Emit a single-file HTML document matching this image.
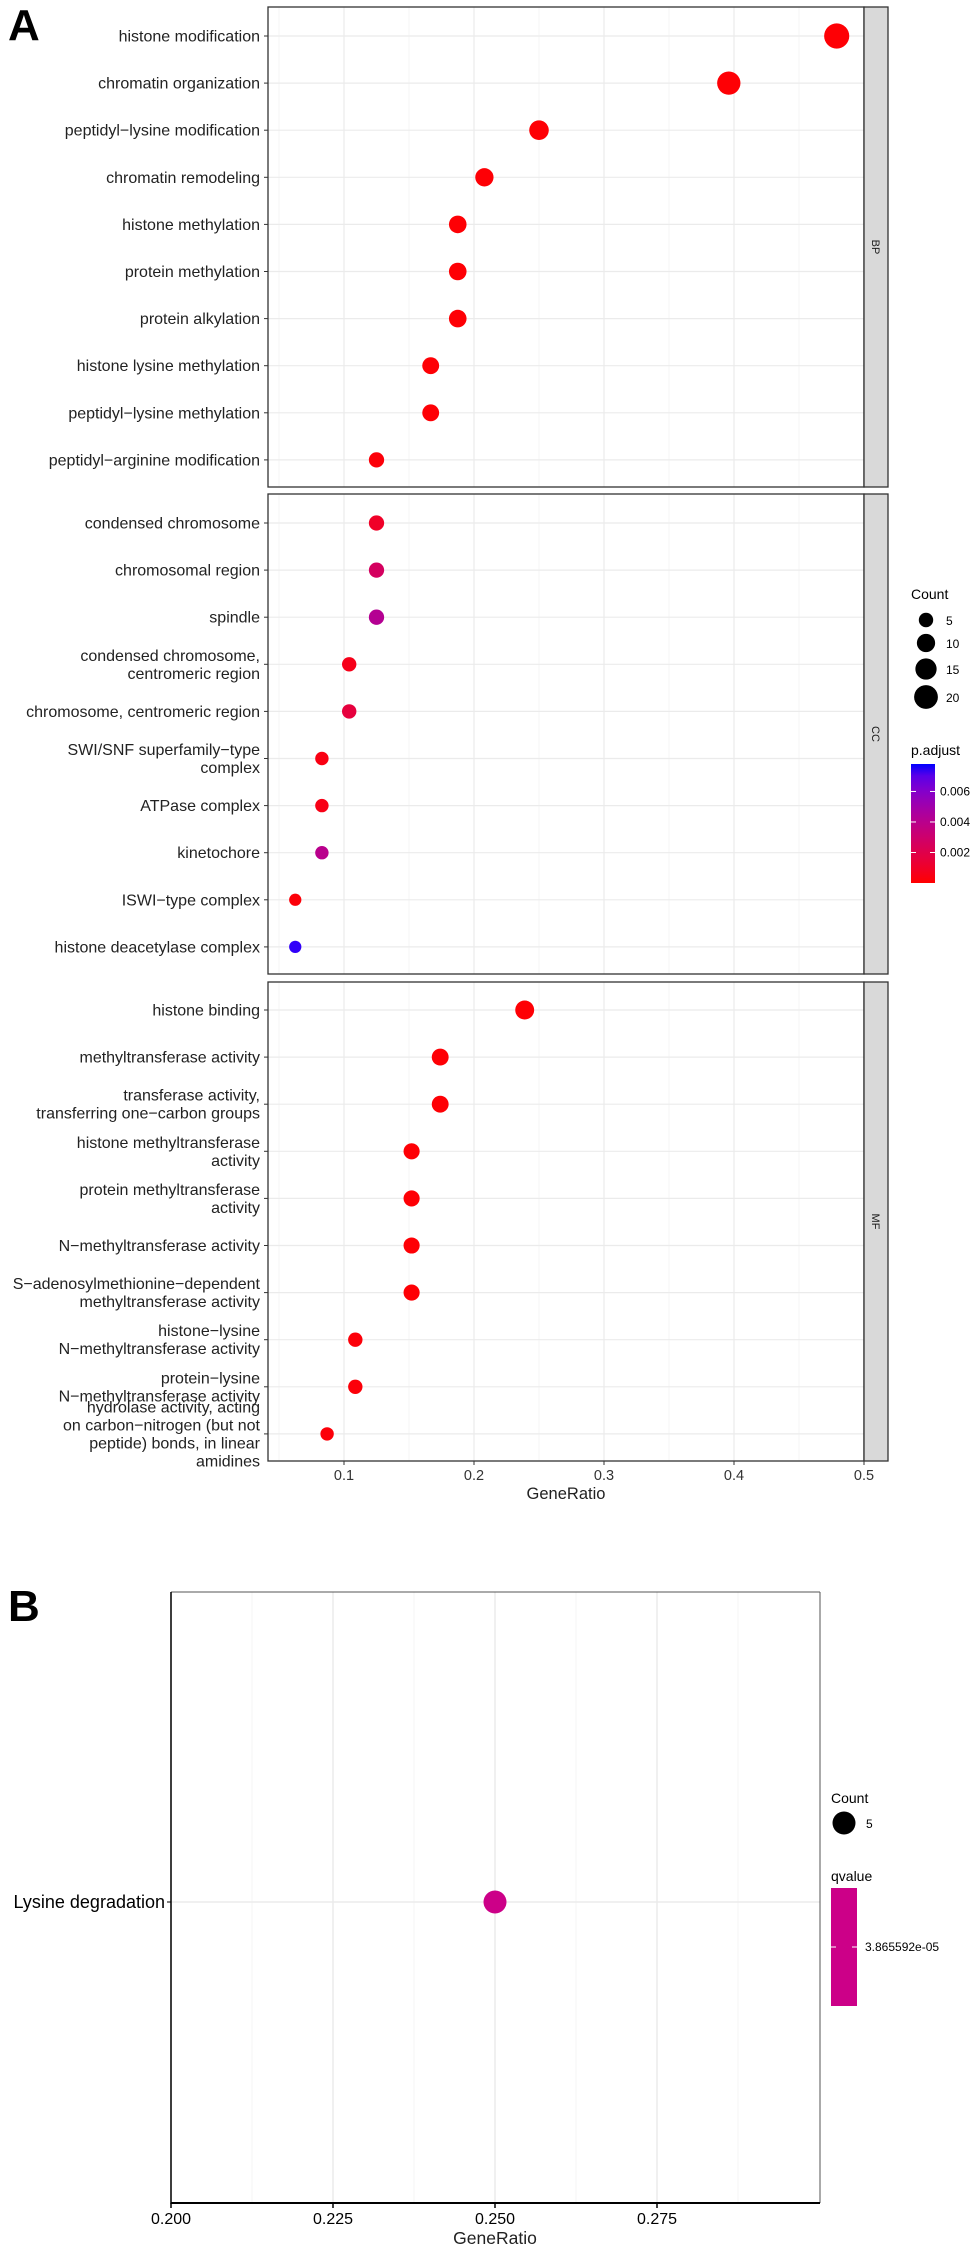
<!DOCTYPE html>
<html><head><meta charset="utf-8"><style>
body{margin:0;background:#fff;}
svg{display:block;font-family:"Liberation Sans",Arial,sans-serif;}
</style></head><body>
<svg id="chart" width="980" height="2250" viewBox="0 0 980 2250"></svg>
<script>
// ---- Panel A data ----
const bpTerms=["histone modification","chromatin organization","peptidyl−lysine modification","chromatin remodeling","histone methylation","protein methylation","protein alkylation","histone lysine methylation","peptidyl−lysine methylation","peptidyl−arginine modification"];
const bpRatio=[0.479,0.396,0.25,0.208,0.1875,0.1875,0.1875,0.1667,0.1667,0.125];
const bpCount=[23,19,12,10,9,9,9,8,8,6];
const bpP=[0.0001,0.0001,0.0001,0.0001,0.0001,0.0001,0.0001,0.0001,0.0001,0.0002];
const ccTerms=["condensed chromosome","chromosomal region","spindle","condensed chromosome,|centromeric region","chromosome, centromeric region","SWI/SNF superfamily−type|complex","ATPase complex","kinetochore","ISWI−type complex","histone deacetylase complex"];
const ccRatio=[0.125,0.125,0.125,0.104,0.104,0.083,0.083,0.083,0.0625,0.0625];
const ccCount=[6,6,6,5,5,4,4,4,3,3];
const ccP=[0.0010,0.0026,0.0042,0.0006,0.0016,0.0004,0.0005,0.0040,0.0002,0.0076];
const mfTerms=["histone binding","methyltransferase activity","transferase activity,|transferring one−carbon groups","histone methyltransferase|activity","protein methyltransferase|activity","N−methyltransferase activity","S−adenosylmethionine−dependent|methyltransferase activity","histone−lysine|N−methyltransferase activity","protein−lysine|N−methyltransferase activity","hydrolase activity, acting|on carbon−nitrogen (but not|peptide) bonds, in linear|amidines"];
const mfRatio=[0.239,0.174,0.174,0.152,0.152,0.152,0.152,0.1087,0.1087,0.087];
const mfCount=[11,8,8,7,7,7,7,5,5,4];
const mfP=[0.0001,0.0001,0.0001,0.0001,0.0001,0.0001,0.0001,0.0002,0.0002,0.0002];
const xTicksA=[0.1,0.2,0.3,0.4,0.5];
const xTickLabelsA=["0.1","0.2","0.3","0.4","0.5"];
const sizeLegend=[5,10,15,20];
const pTicks=[0.002,0.004,0.006];
// ---- Panel B data ----
const bTerms=["Lysine degradation"];
const bRatio=[0.25];
const bCount=[5];
const xTicksB=[0.2,0.225,0.25,0.275];
const xTickLabelsB=["0.200","0.225","0.250","0.275"];

const NS="http://www.w3.org/2000/svg";
const svg=document.getElementById('chart');
function mk(tag,attrs,parent){const e=document.createElementNS(NS,tag);for(const k in attrs)e.setAttribute(k,attrs[k]);(parent||svg).appendChild(e);return e;}

// scales
const xA=v=>214+v*1300;
const rA=c=>2.1*Math.sqrt(c)+2.5;
const pMax=0.0078;
function pColor(p){const t=Math.max(0,Math.min(1,p/pMax));const r=Math.round(255*Math.pow(1-t,0.45)),b=Math.round(255*Math.pow(t,0.9));return `rgb(${r},0,${b})`;}
const xB=v=>171+(v-0.2)*6480;

// Panel letters
let t=mk('text',{x:8,y:40,'font-size':44,'font-weight':'bold',fill:'#000'});t.textContent='A';

t=mk('text',{x:8,y:1621,'font-size':44,'font-weight':'bold',fill:'#000'});t.textContent='B';


const facets=[
 {name:'BP',top:7,bottom:487,y0:36,terms:bpTerms,ratio:bpRatio,count:bpCount,p:bpP},
 {name:'CC',top:494,bottom:974,y0:523,terms:ccTerms,ratio:ccRatio,count:ccCount,p:ccP},
 {name:'MF',top:982,bottom:1461,y0:1010,terms:mfTerms,ratio:mfRatio,count:mfCount,p:mfP}
];
const L=268,R=864,SR=888,step=47.1;
facets.forEach(f=>{
 const g=mk('g',{});
 
 
 mk('rect',{x:L,y:f.top,width:R-L,height:f.bottom-f.top,fill:'#fff'},g);
 for(let v=0.05;v<0.52;v+=0.1){mk('line',{x1:xA(v),x2:xA(v),y1:f.top,y2:f.bottom,stroke:'#f2f2f2','stroke-width':0.7},g);}
 xTicksA.forEach(v=>mk('line',{x1:xA(v),x2:xA(v),y1:f.top,y2:f.bottom,stroke:'#ebebeb','stroke-width':1.2},g));
 f.terms.forEach((term,i)=>{
  const y=f.y0+i*step;
  mk('line',{x1:L,x2:R,y1:y,y2:y,stroke:'#ebebeb','stroke-width':1.2},g);
  mk('line',{x1:L-4,x2:L,y1:y,y2:y,stroke:'#333','stroke-width':1},g);
  const lines=term.split('|');
  const lab=mk('text',{x:260,'font-size':16,fill:'#222','text-anchor':'end'},g);
  
  
  lines.forEach((ln,k)=>{const ts=mk('tspan',{x:260,y:y+5.5+(k-(lines.length-1)/2)*18},lab);ts.textContent=ln;});
 });
 f.terms.forEach((term,i)=>{
  const c=mk('circle',{cx:xA(f.ratio[i]),cy:f.y0+i*step,r:rA(f.count[i]),fill:pColor(f.p[i])},g);
  
  
 });
 mk('rect',{x:L,y:f.top,width:R-L,height:f.bottom-f.top,fill:'none',stroke:'#333','stroke-width':1.3},g);
 const s=mk('rect',{x:R,y:f.top,width:SR-R,height:f.bottom-f.top,fill:'#d9d9d9',stroke:'#333','stroke-width':1.3},g);
 
 
 const cy=(f.top+f.bottom)/2, sx=(R+SR)/2;
 const st=mk('text',{x:sx,y:cy,'font-size':11,fill:'#1a1a1a','text-anchor':'middle',transform:`rotate(90 ${sx} ${cy})`,dy:4},g);
 st.textContent=f.name;
});
// x axis A
xTicksA.forEach((v,i)=>{
 mk('line',{x1:xA(v),x2:xA(v),y1:1461,y2:1465,stroke:'#333'});
 const tl=mk('text',{x:xA(v),y:1480,'font-size':14.5,fill:'#333','text-anchor':'middle'});
 tl.textContent=xTickLabelsA[i];
 
 
});
t=mk('text',{x:566,y:1499,'font-size':16.5,fill:'#222','text-anchor':'middle'});t.textContent='GeneRatio';


// Legend A
t=mk('text',{x:911,y:599,'font-size':14,fill:'#000'});t.textContent='Count';

const legY=[620,643,669,697];
sizeLegend.forEach((c,i)=>{
 const lc=mk('circle',{cx:926,cy:legY[i],r:rA(c),fill:'#000'});
 
 
 const lt=mk('text',{x:946,y:legY[i]+5,'font-size':12,fill:'#000'});lt.textContent=String(c);
});
t=mk('text',{x:911,y:755,'font-size':14,fill:'#000'});t.textContent='p.adjust';

const defs=mk('defs',{});
const grad=mk('linearGradient',{id:'pg',x1:0,y1:1,x2:0,y2:0},defs);
for(let k=0;k<=10;k++){mk('stop',{offset:k/10,'stop-color':pColor(pMax*k/10)},grad);}
const cbTop=764,cbBot=883;
const cb=mk('rect',{x:911,y:cbTop,width:24,height:cbBot-cbTop,fill:'url(#pg)'});

const pY=p=>cbBot-(p/pMax)*(cbBot-cbTop);
pTicks.forEach(p=>{
 mk('line',{x1:911,x2:916,y1:pY(p),y2:pY(p),stroke:'#fff'});
 mk('line',{x1:930,x2:935,y1:pY(p),y2:pY(p),stroke:'#fff'});
 const lt=mk('text',{x:940,y:pY(p)+4,'font-size':12,fill:'#000'});lt.textContent=p.toFixed(3);
});

// ---- Panel B ----
const gB=mk('g',{});

const bT=1592,bBt=2203,bL=171,bR=820;
for(let v=0.2125;v<0.3;v+=0.025){mk('line',{x1:xB(v),x2:xB(v),y1:bT,y2:bBt,stroke:'#f2f2f2','stroke-width':0.8},gB);}
xTicksB.forEach(v=>mk('line',{x1:xB(v),x2:xB(v),y1:bT,y2:bBt,stroke:'#ebebeb','stroke-width':1.5},gB));
const yB=1902;
bTerms.forEach((term,i)=>{
 mk('line',{x1:bL,x2:bR,y1:yB,y2:yB,stroke:'#ebebeb','stroke-width':1.5},gB);
 mk('line',{x1:bL-4,x2:bL,y1:yB,y2:yB,stroke:'#000'},gB);
 const lt=mk('text',{x:165,y:yB+6,'font-size':18,fill:'#000','text-anchor':'end'},gB);lt.textContent=term;
 
 const c=mk('circle',{cx:xB(bRatio[i]),cy:yB,r:6*Math.sqrt(bCount[i])/Math.sqrt(5)+5.5,fill:'#cc0088'},gB);
 
});
mk('line',{x1:bL,x2:bR,y1:bT,y2:bT,stroke:'#555','stroke-width':1},gB);
mk('line',{x1:bR,x2:bR,y1:bT,y2:bBt,stroke:'#555','stroke-width':1},gB);
mk('line',{x1:bL,x2:bL,y1:bT,y2:bBt+1,stroke:'#000','stroke-width':1.5},gB);
mk('line',{x1:bL,x2:bR,y1:bBt,y2:bBt,stroke:'#000','stroke-width':2},gB);
xTicksB.forEach((v,i)=>{
 mk('line',{x1:xB(v),x2:xB(v),y1:bBt,y2:bBt+5,stroke:'#000','stroke-width':1.5});
 const tl=mk('text',{x:xB(v),y:2224,'font-size':16,fill:'#000','text-anchor':'middle'});tl.textContent=xTickLabelsB[i];
 
});
t=mk('text',{x:495,y:2244,'font-size':17.5,fill:'#222','text-anchor':'middle'});t.textContent='GeneRatio';

// Legend B
t=mk('text',{x:831,y:1803,'font-size':14,fill:'#000'});t.textContent='Count';

const lcB=mk('circle',{cx:844,cy:1823,r:11.5,fill:'#000'});

t=mk('text',{x:866,y:1828,'font-size':12,fill:'#000'});t.textContent='5';
t=mk('text',{x:831,y:1881,'font-size':14,fill:'#000'});t.textContent='qvalue';

const qb=mk('rect',{x:831,y:1888,width:26,height:118,fill:'#cc0088'});

mk('line',{x1:831,x2:836,y1:1947,y2:1947,stroke:'#fff'});
mk('line',{x1:852,x2:857,y1:1947,y2:1947,stroke:'#fff'});
t=mk('text',{x:865,y:1951,'font-size':12,fill:'#000'});t.textContent='3.865592e-05';
</script>
</body></html>
